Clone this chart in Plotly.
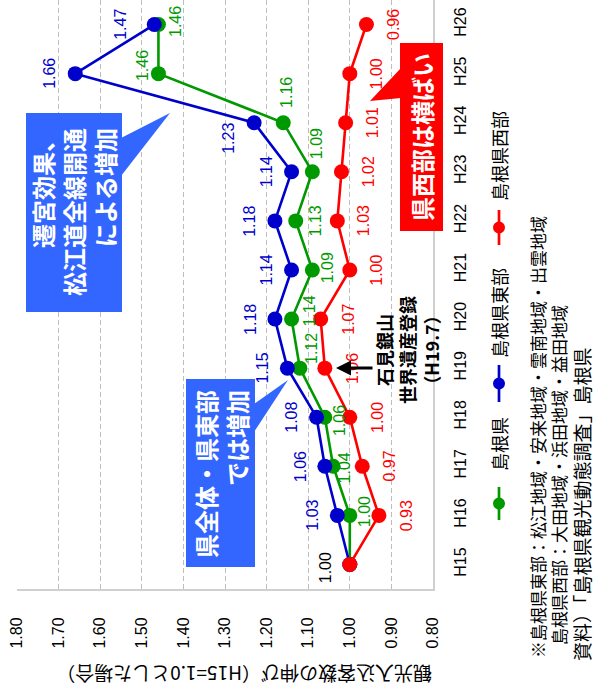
import plotly.graph_objects as go

# ---------------- data ----------------
years = ["H15", "H16", "H17", "H18", "H19", "H20", "H21", "H22", "H23", "H24", "H25", "H26"]
shimane = [1.00, 1.00, 1.04, 1.06, 1.12, 1.14, 1.09, 1.13, 1.09, 1.16, 1.46, 1.46]
east = [1.00, 1.03, 1.06, 1.08, 1.15, 1.18, 1.14, 1.18, 1.14, 1.23, 1.66, 1.47]
west = [1.00, 0.93, 0.97, 1.00, 1.06, 1.07, 1.00, 1.03, 1.02, 1.01, 1.00, 0.96]
value_ticks = [0.8, 0.9, 1.0, 1.1, 1.2, 1.3, 1.4, 1.5, 1.6, 1.7, 1.8]
series_names = ["島根県", "島根県東部", "島根県西部"]

# ---------------- style ----------------
W, H = 596, 690
L, R, T, B = 17, 433, 0, 589
GREEN, BLUE, RED = "#009900", "#0000CC", "#FF0000"
BOXBLUE = "#3366FF"
NUM = "Liberation Sans, Arial, sans-serif"
JP = "Noto Sans CJK JP, sans-serif"


def px(xp):
    return (xp - L) / (R - L)


def py(yp):
    return (B - yp) / (B - T)


# label offsets (pixels) per point: (xshift, yshift)
green_off = [(0, 0), (15, 4), (11, -2), (14, -3), (11, 20), (17, 8), (16, 2),
             (20, 0), (4, 28), (3, 30), (-16, 8), (17, 3)]
east_off = [(0, 0)] + [(-25, 0)] * 8 + [(-25, -16), (-26, 0), (-34, 0)]
west_off = [(0, 0)] + [(27, 0)] * 11

fig = go.Figure()
series = [(shimane, GREEN, green_off), (east, BLUE, east_off), (west, RED, west_off)]
for (vals, col, off), name in zip(series, series_names):
    fig.add_trace(go.Scatter(
        x=vals, y=years, mode="lines+markers", name=name,
        line=dict(color=col, width=2.6),
        marker=dict(color=col, size=15),
        hoverinfo="skip",
    ))

annotations = []
for (vals, col, off) in series:
    for i, (yr, v) in enumerate(zip(years, vals)):
        if i == 0:
            continue
        annotations.append(dict(
            x=v, y=yr, xref="x", yref="y", text=f"{v:.2f}", showarrow=False,
            xanchor="center", yanchor="middle",
            textangle=-90, xshift=off[i][0], yshift=off[i][1],
            font=dict(family=NUM, size=16, color=col),
        ))
# H15 common label
annotations.append(dict(
    x=shimane[0], y=years[0], xref="x", yref="y", text=f"{shimane[0]:.2f}",
    showarrow=False, textangle=-90, xshift=-24, yshift=-3,
    xanchor="center", yanchor="middle",
    font=dict(family=NUM, size=16, color="#000000"),
))

shapes = []


def rect(x0, y0, x1, y1, col):
    shapes.append(dict(type="rect", xref="paper", yref="paper",
                       x0=px(x0), x1=px(x1), y0=py(y1), y1=py(y0),
                       fillcolor=col, line=dict(width=0), layer="above"))


def tri(pts, col):
    path = "M " + " L ".join(f"{px(a)},{py(b)}" for a, b in pts) + " Z"
    shapes.append(dict(type="path", xref="paper", yref="paper", path=path,
                       fillcolor=col, line=dict(width=0), layer="above"))


rect(26, 113, 122, 312, BOXBLUE)
tri([(121, 138), (121, 176), (170, 113)], BOXBLUE)
rect(186, 379, 255, 567, BOXBLUE)
tri([(254, 404), (254, 432), (288, 380)], BOXBLUE)
rect(400, 43, 443, 231, RED)
tri([(401, 68), (401, 98), (370, 101)], RED)


def note(x, y, text, size, color="black", bold=False, angle=-90, align="center",
         xa="center", ya="middle"):
    f = dict(family=JP, size=size, color=color)
    if bold:
        f["weight"] = "bold"
    return dict(x=px(x), y=py(y), xref="paper", yref="paper", showarrow=False,
                xanchor=xa, yanchor=ya, text=text, textangle=angle, align=align,
                font=f)


annotations += [
    note(74, 212, "遷宮効果、<br>松江道全線開通<br>による増加", 24, "white", True, align="right"),
    note(221, 474, "県全体・県東部<br>では増加", 24, "white", True, align="right"),
    note(422, 137, "県西部は横ばい", 24, "white", True),
    note(407, 350, "石見銀山<br>世界遺産登録<br>（H19.7）", 18, "black", True),
    note(244, 675, "観光入込客数の伸び（H15=1.0とした場合）", 19, angle=180),
    # arrow for Iwami Ginzan
    dict(x=px(336), y=py(368), xref="paper", yref="paper", text="", showarrow=True,
         ax=38, ay=0, arrowhead=2, arrowsize=1, arrowwidth=3, arrowcolor="black",
         standoff=0),
]

# manual legend (rotated)
leg = [(GREEN, 487, 520, 473), (BLUE, 365, 402, 360), (RED, 210, 245, 203)]
for (col, ya, yb, ytext), name in zip(leg, series_names):
    shapes.append(dict(type="line", xref="paper", yref="paper",
                       x0=px(499), x1=px(499), y0=py(ya), y1=py(yb),
                       line=dict(color=col, width=2.7), layer="above"))
    ym = (ya + yb) / 2
    shapes.append(dict(type="circle", xref="paper", yref="paper",
                       x0=px(493), x1=px(505), y0=py(ym + 6), y1=py(ym - 6),
                       fillcolor=col, line=dict(width=0), layer="above"))
    annotations.append(note(499, ytext, name, 18, ya="bottom"))

# notes
notes = [
    ("※島根県東部：松江地域・安来地域・雲南地域・出雲地域", 537, 660, 17),
    ("島根県西部：大田地域・浜田地域・益田地域", 558, 647, 17),
    ("資料）「島根県観光動態調査」島根県", 581, 663, 19),
]
for txt, xc, yb, fs in notes:
    annotations.append(note(xc, yb, txt, fs, ya="bottom"))

fig.update_layout(
    width=W, height=H,
    margin=dict(l=L, r=W - R, t=T, b=H - B, pad=0),
    paper_bgcolor="white", plot_bgcolor="white",
    showlegend=False,
    xaxis=dict(
        range=[1.8, 0.8], tickvals=value_ticks,
        ticktext=[f"{v:.2f}" for v in value_ticks],
        tickangle=-90, tickfont=dict(family=NUM, size=16, color="black"),
        showgrid=True, gridcolor="#BDBDBD", gridwidth=1, griddash="5px,3px",
        showline=True, linecolor="#D0D0D0", linewidth=2,
        zeroline=False, ticks="", ticklabelstandoff=20,
    ),
    yaxis=dict(
        type="category", categoryorder="array", categoryarray=years,
        range=[-0.5, 11.5], side="right",
        tickangle=-90, tickfont=dict(family=NUM, size=16, color="black"),
        showgrid=False, showline=True, linecolor="#D0D0D0", linewidth=2,
        zeroline=False, ticks="", ticklabelstandoff=12,
    ),
    shapes=shapes,
    annotations=annotations,
)

fig.write_html("out.html")
